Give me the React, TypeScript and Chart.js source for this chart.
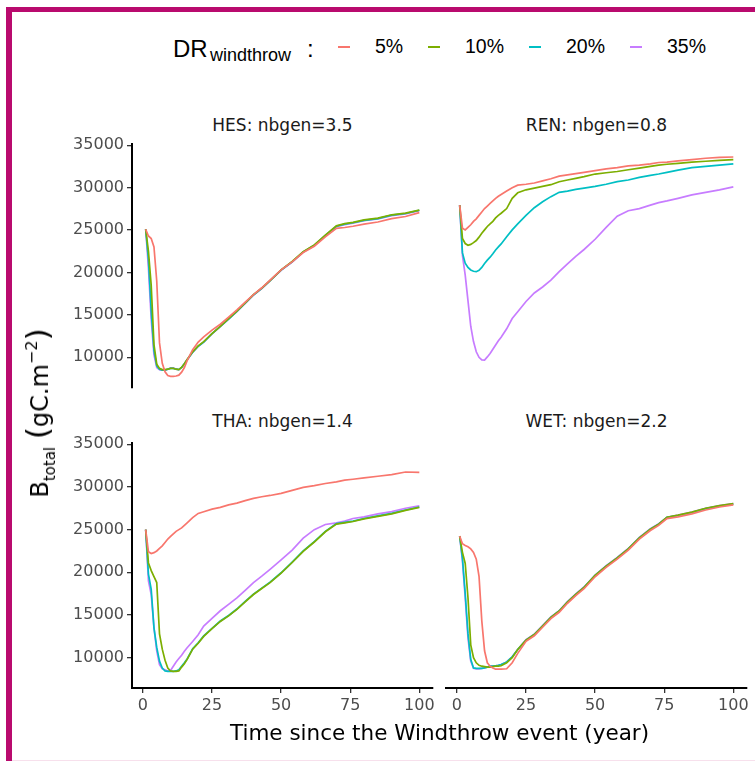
import React, { useEffect, useRef } from "react";
import { Chart, registerables } from "chart.js";

Chart.register(...registerables);

// ---------- data ----------
const years = [1, 2, 3, 4, 5, 6, 7, 8, 9, 10, 11, 12, 13, 14, 15, 16, 18, 20, 22, 25, 28, 31, 34, 37, 40, 43, 46, 50, 54, 58, 62, 66, 70, 73, 76, 80, 85, 90, 95, 100];

const drLabels = ["5%", "10%", "20%", "35%"];
const seriesColors = ["#F8766D", "#7CAE00", "#00BFC4", "#C77CFF"];

const hesDR5 = [25100, 24300, 24000, 23000, 19000, 11700, 9300, 8300, 7850, 7750, 7750, 7800, 7900, 8250, 8800, 9600, 10900, 11800, 12400, 13200, 13900, 14750, 15600, 16500, 17400, 18200, 19100, 20300, 21250, 22350, 23100, 24200, 25200, 25300, 25450, 25700, 25950, 26350, 26600, 27050];
const hesDR10 = [25100, 22500, 18500, 11500, 9200, 8700, 8550, 8550, 8600, 8700, 8700, 8600, 8550, 8800, 9250, 9750, 10650, 11350, 11850, 12800, 13650, 14550, 15450, 16400, 17400, 18150, 19050, 20300, 21300, 22450, 23250, 24400, 25500, 25750, 25900, 26200, 26400, 26800, 27000, 27350];
const hesDR20 = [25100, 21500, 15500, 10800, 9000, 8600, 8500, 8500, 8600, 8700, 8700, 8600, 8550, 8800, 9250, 9700, 10600, 11300, 11800, 12780, 13640, 14500, 15400, 16380, 17350, 18130, 19030, 20280, 21250, 22420, 23200, 24370, 25450, 25700, 25860, 26150, 26350, 26750, 26950, 27330];
const hesDR35 = [25100, 20500, 14500, 10300, 8800, 8550, 8500, 8500, 8600, 8750, 8750, 8600, 8550, 8800, 9250, 9700, 10590, 11290, 11800, 12770, 13630, 14490, 15380, 16360, 17330, 18110, 19010, 20260, 21230, 22400, 23180, 24350, 25400, 25640, 25800, 26100, 26300, 26690, 26890, 27280];

const renDR5 = [27900, 25200, 25000, 25300, 25600, 26000, 26300, 26700, 27100, 27500, 27800, 28100, 28400, 28700, 28950, 29150, 29550, 29950, 30250, 30350, 30500, 30750, 31000, 31300, 31450, 31600, 31750, 31950, 32150, 32300, 32500, 32600, 32750, 32900, 32950, 33100, 33250, 33400, 33500, 33550];
const renDR10 = [27900, 24000, 23400, 23200, 23300, 23500, 23750, 24150, 24600, 25000, 25400, 25700, 26000, 26400, 26700, 26950, 27500, 28700, 29350, 29700, 29900, 30100, 30300, 30650, 30850, 31050, 31250, 31550, 31700, 31850, 32050, 32250, 32450, 32600, 32700, 32800, 32950, 33050, 33150, 33250];
const renDR20 = [27900, 22300, 21100, 20600, 20300, 20150, 20100, 20250, 20600, 21050, 21450, 21800, 22200, 22650, 23000, 23350, 24200, 25000, 25700, 26700, 27600, 28300, 28900, 29400, 29550, 29750, 29900, 30100, 30350, 30650, 30850, 31150, 31400, 31550, 31750, 32000, 32300, 32450, 32600, 32750];
const renDR35 = [27900, 22000, 19700, 16700, 13700, 11900, 10700, 10050, 9750, 9730, 10100, 10500, 11000, 11500, 12000, 12400, 13400, 14600, 15400, 16600, 17600, 18300, 19100, 20100, 21000, 21900, 22700, 23900, 25300, 26600, 27250, 27500, 27900, 28200, 28400, 28700, 29100, 29400, 29700, 30050];

const thaDR5 = [25000, 22400, 22200, 22300, 22500, 22800, 23100, 23500, 23900, 24200, 24500, 24800, 25000, 25200, 25500, 25800, 26400, 26900, 27100, 27400, 27600, 27900, 28100, 28400, 28650, 28850, 29000, 29250, 29600, 29950, 30150, 30400, 30600, 30800, 30900, 31050, 31250, 31450, 31750, 31700];
const thaDR10 = [25000, 21100, 20200, 19500, 18800, 12800, 11000, 9700, 8800, 8450, 8400, 8400, 8450, 8900, 9300, 9800, 11000, 11700, 12500, 13400, 14250, 14900, 15650, 16550, 17400, 18100, 18800, 19900, 21150, 22450, 23550, 24750, 25650, 25800, 25950, 26250, 26550, 26850, 27250, 27600];
const thaDR20 = [25000, 19800, 18000, 13500, 11200, 9600, 8800, 8450, 8400, 8400, 8400, 8450, 8600, 9000, 9400, 9850, 11050, 11750, 12550, 13450, 14300, 14950, 15700, 16600, 17450, 18150, 18850, 19950, 21200, 22500, 23600, 24800, 25700, 25850, 26000, 26300, 26600, 26900, 27300, 27650];
const thaDR35 = [25000, 19000, 17400, 13500, 10800, 9200, 8700, 8600, 8450, 8500, 9000, 9500, 9900, 10300, 10750, 11170, 11900, 12700, 13700, 14600, 15500, 16250, 17000, 17900, 18800, 19550, 20350, 21450, 22600, 24000, 25000, 25600, 25800, 26000, 26300, 26500, 26850, 27100, 27500, 27800];

const wetDR5 = [24200, 23300, 23100, 22950, 22700, 22300, 21500, 19500, 14300, 10800, 9400, 9000, 8800, 8650, 8650, 8650, 8700, 9400, 10500, 11900, 12550, 13550, 14550, 15300, 16350, 17250, 18050, 19450, 20550, 21500, 22550, 23850, 24850, 25450, 26250, 26450, 26800, 27250, 27600, 27850];
const wetDR10 = [24200, 22300, 21000, 17000, 11500, 10000, 9400, 9100, 9000, 8950, 8900, 8900, 8950, 9000, 9000, 9050, 9400, 10000, 10950, 12050, 12700, 13700, 14700, 15450, 16500, 17400, 18200, 19600, 20700, 21650, 22700, 24000, 25000, 25600, 26400, 26650, 27000, 27450, 27750, 28000];
const wetDR20 = [24200, 21600, 17500, 12800, 9800, 8800, 8750, 8750, 8750, 8800, 8900, 9000, 9000, 9050, 9100, 9200, 9500, 10100, 10950, 12050, 12700, 13700, 14700, 15450, 16500, 17400, 18200, 19600, 20700, 21650, 22700, 24000, 25000, 25600, 26400, 26600, 26950, 27400, 27700, 27950];
const wetDR35 = [24200, 21300, 17000, 12300, 9600, 8750, 8700, 8700, 8750, 8800, 8900, 9000, 9000, 9050, 9100, 9200, 9500, 10100, 10950, 12100, 12750, 13750, 14750, 15500, 16550, 17450, 18250, 19650, 20750, 21700, 22750, 24050, 25050, 25650, 26400, 26650, 27000, 27450, 27750, 28000];

const facetTitles = ["HES: nbgen=3.5", "REN: nbgen=0.8", "THA: nbgen=1.4", "WET: nbgen=2.2"];
const yTicks = [10000, 15000, 20000, 25000, 30000, 35000];
const xTicks = [0, 25, 50, 75, 100];
const Y_MIN = 6455;
const Y_MAX = 35190;
const X_MIN = -3.95;
const X_MAX = 104.95;

// ---------- layout ----------
const FONT = "'DejaVu Sans', sans-serif";
const LEG_FONT = "'Liberation Sans', Arial, sans-serif";
const PAD = { left: 12, top: 12, right: 8, bottom: 12 };
const YW = 80;
const XH = 34;

type Area = { l: number; t: number; r: number; b: number };

function Panel({ series, area, showY, showX }: { series: number[][]; area: Area; showY: boolean; showX: boolean }) {
  const ref = useRef<HTMLCanvasElement | null>(null);
  const left = area.l - PAD.left - (showY ? YW : 0);
  const top = area.t - PAD.top;
  const width = area.r + PAD.right - left;
  const height = area.b + PAD.bottom + (showX ? XH : 0) - top;

  useEffect(() => {
    if (!ref.current) return;
    const tickFont = { family: FONT, size: 16 };
    const chart = new Chart(ref.current, {
      type: "line",
      data: {
        datasets: series.map((vals, i) => ({
          label: drLabels[i],
          data: years.map((x, j) => ({ x, y: vals[j] })),
          borderColor: seriesColors[i],
          backgroundColor: seriesColors[i],
          borderWidth: 1.7,
          pointRadius: 0,
          fill: false,
          tension: 0,
        })),
      },
      options: {
        responsive: false,
        maintainAspectRatio: false,
        animation: false,
        layout: { padding: PAD },
        plugins: { legend: { display: false }, tooltip: { enabled: false } },
        scales: {
          x: {
            type: "linear",
            min: X_MIN,
            max: X_MAX,
            display: showX,
            afterBuildTicks: (s: any) => {
              s.ticks = xTicks.map((v) => ({ value: v }));
            },
            afterFit: (s: any) => {
              s.height = showX ? XH : 0;
            },
            grid: { display: true, drawOnChartArea: false, drawTicks: true, tickLength: 5, color: "#333333", lineWidth: 1.3 },
            border: { display: true, color: "#000000", width: 2 },
            ticks: { color: "#4D4D4D", font: tickFont, padding: 3, maxRotation: 0, autoSkip: false, callback: (v: any) => String(v) },
          },
          y: {
            type: "linear",
            min: Y_MIN,
            max: Y_MAX,
            display: showY,
            afterBuildTicks: (s: any) => {
              s.ticks = yTicks.map((v) => ({ value: v }));
            },
            afterFit: (s: any) => {
              s.width = showY ? YW : 0;
            },
            grid: { display: true, drawOnChartArea: false, drawTicks: true, tickLength: 5, color: "#333333", lineWidth: 1.3 },
            border: { display: true, color: "#000000", width: 2 },
            ticks: { color: "#4D4D4D", font: tickFont, padding: 3, autoSkip: false, callback: (v: any) => String(v) },
          },
        },
      },
    } as any);
    return () => chart.destroy();
  }, []);

  return (
    <canvas
      ref={ref}
      width={width}
      height={height}
      style={{ position: "absolute", left, top, width, height }}
    />
  );
}

const areas: Area[] = [
  { l: 132, t: 143, r: 433, b: 388 },
  { l: 446, t: 143, r: 747, b: 388 },
  { l: 132, t: 442, r: 433, b: 688 },
  { l: 446, t: 442, r: 747, b: 688 },
];

const panelSeries = [
  [hesDR5, hesDR10, hesDR20, hesDR35],
  [renDR5, renDR10, renDR20, renDR35],
  [thaDR5, thaDR10, thaDR20, thaDR35],
  [wetDR5, wetDR10, wetDR20, wetDR35],
];

const legendKeyX = [338, 428, 529, 630];
const legendLabelX = [375, 465, 566, 667];

export default function App() {
  const magenta = "#B90A6E";
  return (
    <div style={{ position: "fixed", left: 0, top: 0, width: 755, height: 761, overflow: "hidden", background: "#ffffff" }}>
      {/* frame */}
      <div style={{ position: "absolute", left: 6, top: 7, width: 6, height: 754, background: magenta }} />
      <div style={{ position: "absolute", left: 6, top: 7, width: 749, height: 5, background: magenta }} />
      <div style={{ position: "absolute", left: 12, top: 760, width: 743, height: 1, background: "#F7E0EC" }} />

      {/* legend */}
      <div style={{ position: "absolute", left: 173, top: 36.5, fontFamily: LEG_FONT, fontSize: 24, lineHeight: "24px", color: "#000", whiteSpace: "nowrap" }}>DR</div>
      <div style={{ position: "absolute", left: 210, top: 46, fontFamily: LEG_FONT, fontSize: 18, lineHeight: "18px", color: "#000", whiteSpace: "nowrap" }}>windthrow</div>
      <div style={{ position: "absolute", left: 307, top: 36.5, fontFamily: LEG_FONT, fontSize: 24, lineHeight: "24px", color: "#000" }}>:</div>
      {drLabels.map((lab, i) => (
        <React.Fragment key={lab}>
          <div style={{ position: "absolute", left: legendKeyX[i], top: 45.5, width: 12, height: 2, background: seriesColors[i] }} />
          <div style={{ position: "absolute", left: legendLabelX[i], top: 36.5, fontFamily: LEG_FONT, fontSize: 19.5, lineHeight: "19.5px", color: "#000", whiteSpace: "nowrap" }}>{lab}</div>
        </React.Fragment>
      ))}

      {/* facet titles */}
      {areas.map((a, i) => (
        <div
          key={"ft" + i}
          style={{
            position: "absolute",
            left: a.l,
            width: a.r - a.l,
            top: (i < 2 ? 125 : 421) - 8.5,
            textAlign: "center",
            fontFamily: FONT,
            fontSize: 17,
            lineHeight: "17px",
            color: "#1A1A1A",
            whiteSpace: "nowrap",
          }}
        >
          {facetTitles[i]}
        </div>
      ))}

      {/* panels */}
      {areas.map((a, i) => (
        <Panel key={"p" + i} series={panelSeries[i]} area={a} showY={i % 2 === 0} showX={i >= 2} />
      ))}

      {/* x title */}
      <div style={{ position: "absolute", left: 139.5, width: 600, top: 721.5, textAlign: "center", fontFamily: FONT, fontSize: 21.5, lineHeight: "21.5px", color: "#000", whiteSpace: "nowrap" }}>
        Time since the Windthrow event (year)
      </div>

      {/* y title */}
      <div
        style={{
          position: "absolute",
          left: 40,
          top: 413,
          transform: "translate(-50%, -50%) rotate(-90deg)",
          fontFamily: FONT,
          fontSize: 24,
          lineHeight: "32px",
          color: "#000",
          whiteSpace: "nowrap",
        }}
      >
        <span>B</span>
        <span style={{ fontSize: 15, position: "relative", top: 7 }}>total</span>
        <span>{"  "}</span>
        <span style={{ fontSize: 31 }}>(</span>
        <span>gC.m</span>
        <span style={{ fontSize: 16, position: "relative", top: -11 }}>−2</span>
        <span style={{ fontSize: 31 }}>)</span>
      </div>
    </div>
  );
}
